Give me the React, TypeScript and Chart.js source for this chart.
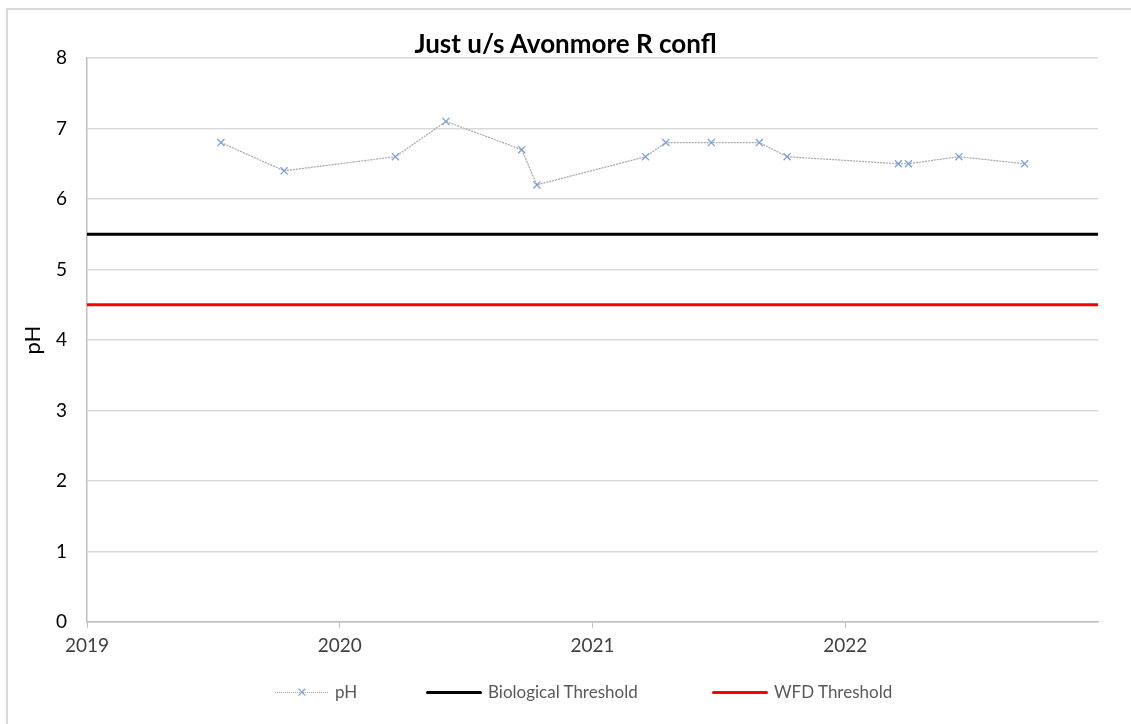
import React, { useEffect, useRef } from "react";
import { Chart, registerables } from "chart.js";

Chart.register(...registerables);

const chartTitle = "Just u/s Avonmore R confl";
const yAxisTitle = "pH";
const sampleDates = [2019.53, 2019.78, 2020.22, 2020.42, 2020.72, 2020.78, 2021.21, 2021.29, 2021.47, 2021.66, 2021.77, 2022.21, 2022.25, 2022.45, 2022.71];
const phValues = [6.8, 6.4, 6.6, 7.1, 6.7, 6.2, 6.6, 6.8, 6.8, 6.8, 6.6, 6.5, 6.5, 6.6, 6.5];
const xRange = [2019, 2023];
const biologicalThreshold = 5.5;
const wfdThreshold = 4.5;
const legendLabels = ["pH", "Biological Threshold", "WFD Threshold"];

const FONT = "Lato, 'Open Sans', 'Liberation Sans', sans-serif";

export default function App() {
  const canvasRef = useRef<HTMLCanvasElement | null>(null);

  useEffect(() => {
    const ctx = canvasRef.current;
    if (!ctx) return;
    const chart = new Chart(ctx, {
      type: "line",
      data: {
        datasets: [
          {
            label: legendLabels[0],
            data: sampleDates.map((d, i) => ({ x: d, y: phValues[i] })),
            borderColor: "#a6a6a6",
            borderWidth: 1.2,
            borderDash: [2, 1],
            pointStyle: "crossRot",
            pointRadius: 5,
            pointBorderColor: "#7f9fd8",
            pointBorderWidth: 1.3,
            pointBackgroundColor: "#7f9fd8",
            tension: 0,
          },
          {
            label: legendLabels[1],
            data: xRange.map((x) => ({ x, y: biologicalThreshold })),
            borderColor: "#000000",
            borderWidth: 3,
            pointRadius: 0,
          },
          {
            label: legendLabels[2],
            data: xRange.map((x) => ({ x, y: wfdThreshold })),
            borderColor: "#ff0000",
            borderWidth: 3,
            pointRadius: 0,
          },
        ],
      },
      options: {
        animation: false,
        responsive: false,
        maintainAspectRatio: false,
        layout: { padding: { left: 20, right: 33, top: 58, bottom: 62 } },
        plugins: {
          legend: { display: false },
          title: { display: false },
          tooltip: { enabled: false },
        },
        scales: {
          x: {
            type: "linear",
            min: xRange[0],
            max: xRange[1],
            afterFit: (s: any) => {
              s.height = 40;
            },
            ticks: {
              stepSize: 1,
              color: "#404040",
              font: { family: FONT, size: 19 },
              padding: 6,
              maxRotation: 0,
              callback: (v: any) => (Number(v) >= xRange[1] ? "" : String(v)),
            },
            grid: {
              drawOnChartArea: false,
              drawTicks: true,
              tickLength: 6,
              color: (c: any) => (c.tick && c.tick.value >= xRange[1] ? "rgba(0,0,0,0)" : "#bfbfbf"),
            },
            border: { color: "#bfbfbf", width: 1.5 },
          },
          y: {
            min: 0,
            max: 8,
            afterFit: (s: any) => {
              s.width = 67;
            },
            ticks: {
              stepSize: 1,
              color: "#000000",
              font: { family: FONT, size: 19 },
              padding: 20,
            },
            grid: { color: "#d9d9d9", lineWidth: 1.5, drawTicks: false },
            border: { color: "#bfbfbf", width: 1.5 },
            title: {
              display: true,
              text: yAxisTitle,
              color: "#000000",
              font: { family: FONT, size: 22 },
              padding: { top: 0, bottom: 0 },
            },
          },
        },
      },
    });
    return () => chart.destroy();
  }, []);

  const legendText: React.CSSProperties = {
    position: "absolute",
    top: 681,
    fontFamily: FONT,
    fontSize: 17,
    color: "#595959",
    lineHeight: "22px",
    whiteSpace: "nowrap",
  };

  return (
    <div style={{ position: "fixed", left: 0, top: 0, width: 1131, height: 724, background: "#ffffff", overflow: "hidden" }}>
      <div style={{ position: "absolute", left: 6, top: 8, width: 1131, height: 2, background: "#d9d9d9" }} />
      <div style={{ position: "absolute", left: 6, top: 8, width: 2, height: 724, background: "#d9d9d9" }} />
      <canvas ref={canvasRef} width={1131} height={724} style={{ position: "absolute", left: 0, top: 0, width: 1131, height: 724 }} />
      <div
        style={{
          position: "absolute",
          left: 0,
          width: 1131,
          top: 27,
          textAlign: "center",
          fontFamily: FONT,
          fontWeight: 700,
          fontSize: 26,
          color: "#000",
          lineHeight: "32px",
        }}
      >
        {chartTitle}
      </div>
      {/* legend */}
      <div style={{ position: "absolute", left: 275, top: 692, width: 53, height: 0, borderTop: "1px dotted #a6a6a6" }} />
      <div style={{ position: "absolute", left: 297, top: 681, fontFamily: FONT, fontSize: 17, color: "#7f9fd8", lineHeight: "22px" }}>×</div>
      <div style={{ ...legendText, left: 335 }}>{legendLabels[0]}</div>
      <div style={{ position: "absolute", left: 426, top: 691, width: 56, height: 3, background: "#000", borderRadius: 2 }} />
      <div style={{ ...legendText, left: 488 }}>{legendLabels[1]}</div>
      <div style={{ position: "absolute", left: 712, top: 691, width: 56, height: 3, background: "#ff0000", borderRadius: 2 }} />
      <div style={{ ...legendText, left: 774 }}>{legendLabels[2]}</div>
    </div>
  );
}
